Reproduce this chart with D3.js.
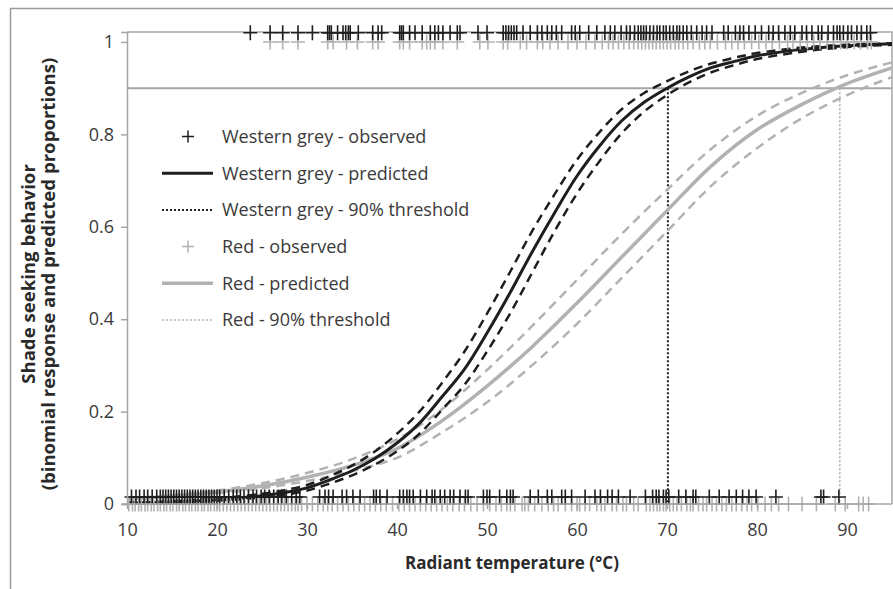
<!DOCTYPE html>
<html><head><meta charset="utf-8">
<script src="https://cdn.jsdelivr.net/npm/d3@7"></script>
<style>body{margin:0;background:#fff}svg{display:block}</style>
</head><body><svg id="c" width="893" height="589"></svg>
<script>
// ---------------- data ----------------
const xTicks = [10, 20, 30, 40, 50, 60, 70, 80, 90];
const yTicks = [0, 0.2, 0.4, 0.6, 0.8, 1];
const yTickLabels = ["0", "0.2", "0.4", "0.6", "0.8", "1"];

const legendLabels = ["Western grey - observed", "Western grey - predicted", "Western grey - 90% threshold",
  "Red - observed", "Red - predicted", "Red - 90% threshold"];

// observed responses (x = radiant temperature). Western grey plotted at 1.02 / 0.015 (offset), Red at 1 / 0
const wgObsLevels = [1.02, 0.015];
const redObsLevels = [1, 0];

const wgObs1 = [23.7, 25.9, 27.3, 29.0, 30.6, 32.3, 32.5, 32.7, 33.4, 34.0, 34.3, 34.6, 34.8, 35.7, 37.3, 37.9, 38.3,
  40.3, 40.5, 40.7, 41.4, 42.0, 42.8, 43.7, 44.2, 44.6, 45.1, 45.9, 46.7, 47.0, 49.0, 50.0, 51.8, 52.1, 52.4, 52.7,
  53.0, 53.3, 54.0, 54.8, 55.6, 56.1, 56.7, 57.2, 57.7, 58.3, 59.4, 59.8, 60.3, 61.3, 62.2, 63.1, 63.7, 64.2, 64.9,
  65.5, 65.9, 66.4, 66.8, 67.1, 67.4, 67.7, 68.1, 68.5, 68.9, 69.2, 69.6, 69.9, 70.3, 70.7, 71.1, 71.4, 71.8, 72.2,
  72.7, 73.3, 73.9, 74.4, 75.0, 76.3, 76.8, 77.6, 78.1, 78.5, 79.1, 79.8, 80.5, 81.3, 81.8, 82.4, 83.1, 83.7, 84.2,
  85.0, 85.5, 86.1, 86.8, 87.2, 87.9, 88.5, 88.9, 89.2, 89.6, 90.1, 90.5, 91.1, 91.6, 92.2, 92.6];

const wgObs0 = [10.5, 11.0, 11.4, 11.9, 12.3, 12.8, 13.3, 13.7, 14.0, 14.3, 14.6, 14.9, 15.2, 15.5, 15.8, 16.1, 16.4,
  16.7, 17.0, 17.3, 17.6, 17.9, 18.2, 18.5, 18.8, 19.1, 19.4, 19.7, 20.0, 20.3, 20.8, 21.3, 21.8, 22.2, 22.6, 23.0,
  23.5, 24.0, 24.4, 24.9, 25.3, 25.8, 26.3, 26.8, 27.2, 27.7, 28.3, 28.8, 29.2, 31.4, 32.0, 32.4, 32.9, 33.9, 34.4,
  35.1, 35.9, 37.4, 37.7, 38.1, 38.9, 40.3, 40.7, 41.1, 41.4, 41.8, 42.6, 43.3, 43.9, 44.2, 44.8, 45.3, 45.9, 46.3,
  47.0, 47.6, 47.9, 49.6, 50.0, 50.3, 51.4, 52.2, 52.6, 52.9, 54.8, 55.7, 56.7, 57.2, 58.3, 58.7, 59.4, 60.9, 62.0,
  62.6, 63.4, 63.9, 64.6, 65.9, 67.6, 68.4, 68.8, 69.1, 69.6, 69.9, 70.2, 71.3, 72.1, 72.9, 73.2, 74.7, 75.8, 76.9,
  77.7, 78.4, 79.1, 79.9, 82.1, 87.1, 87.4, 89.1];

const redObs1 = [25.9, 27.3, 29.0, 32.3, 32.9, 34.4, 35.6, 37.3, 37.9, 40.3, 40.7, 41.4, 42.8, 43.3, 43.7, 44.2, 45.1,
  46.7, 49.2, 50.1, 51.8, 52.3, 53.7, 54.4, 55.6, 56.2, 57.0, 57.9, 59.0, 60.0, 61.0, 62.0, 62.8, 63.5, 64.0, 64.6,
  65.2, 65.8, 66.3, 66.8, 67.2, 67.6, 68.0, 68.4, 68.8, 69.2, 69.6, 70.0, 70.4, 70.9, 71.3, 71.8, 72.3, 72.9, 73.6,
  74.2, 74.8, 75.6, 76.5, 77.2, 77.9, 78.6, 79.4, 80.2, 81.0, 81.7, 82.5, 83.4, 84.0, 84.8, 85.6, 86.3, 87.0, 87.8,
  88.5, 89.3, 90.0, 90.8, 91.5, 92.3, 92.7];

const redObs0 = [10.2, 10.6, 10.9, 11.3, 11.6, 12.0, 12.3, 12.7, 13.0, 13.4, 13.7, 14.1, 14.4, 14.8, 15.1, 15.5, 15.8,
  16.2, 16.5, 16.9, 17.2, 17.6, 17.9, 18.3, 18.6, 19.0, 19.3, 19.7, 20.0, 20.3, 20.7, 21.1, 21.5, 21.9, 22.3, 22.7,
  23.1, 23.5, 23.9, 24.3, 24.7, 25.1, 25.5, 25.9, 26.3, 26.7, 27.1, 27.5, 27.9, 28.3, 28.7, 29.0, 29.4, 30.0, 30.6,
  31.2, 31.8, 32.3, 32.8, 33.4, 34.0, 34.6, 35.2, 35.8, 36.4, 37.0, 37.6, 38.2, 38.8, 39.5, 40.2, 40.8, 41.4, 42.0,
  42.6, 43.2, 43.8, 44.4, 45.0, 45.6, 46.2, 46.9, 47.5, 48.2, 48.9, 49.6, 50.3, 51.0, 51.6, 52.2, 52.6, 53.1, 53.9,
  54.2, 54.6, 55.3, 56.1, 56.8, 57.4, 57.9, 58.7, 59.4, 60.0, 60.3, 60.9, 61.4, 62.2, 62.7, 63.1, 63.9, 64.4, 65.1,
  65.5, 66.3, 66.8, 67.7, 68.1, 68.5, 68.9, 69.2, 69.6, 69.9, 70.3, 70.7, 71.1, 71.6, 72.2, 72.6, 72.9, 73.5, 74.0,
  74.4, 75.0, 75.5, 76.1, 76.6, 77.2, 77.7, 78.3, 78.9, 79.4, 80.1, 80.9, 81.6, 82.4, 83.5, 85.0, 86.6, 88.7, 89.8,
  91.3, 91.8, 92.4];

// predicted curves
const wgX = [10, 15, 20, 25, 27.5, 30, 32.5, 35, 37.5, 40, 42.5, 45, 47.5, 50, 52.5, 55, 57.5, 60, 62.5, 65, 67.5, 70, 72.5, 75, 77.5, 80, 85, 90, 95];
const wgPred  = [0.002, 0.004, 0.009, 0.018, 0.025, 0.035, 0.052, 0.072, 0.098, 0.132, 0.175, 0.232, 0.292, 0.37, 0.455, 0.545, 0.63, 0.71, 0.775, 0.83, 0.87, 0.9, 0.925, 0.945, 0.958, 0.97, 0.984, 0.992, 0.996];
const wgUpper = [0.003, 0.006, 0.012, 0.022, 0.03, 0.041, 0.06, 0.083, 0.113, 0.152, 0.2, 0.262, 0.33, 0.412, 0.5, 0.59, 0.67, 0.745, 0.805, 0.855, 0.89, 0.915, 0.937, 0.954, 0.966, 0.976, 0.988, 0.994, 0.997];
const wgLower = [0.0015, 0.003, 0.007, 0.014, 0.02, 0.029, 0.044, 0.062, 0.085, 0.114, 0.152, 0.204, 0.258, 0.33, 0.41, 0.5, 0.59, 0.672, 0.742, 0.803, 0.85, 0.885, 0.913, 0.935, 0.95, 0.963, 0.979, 0.989, 0.994];

const redX = [10, 15, 20, 25, 30, 35, 40, 45, 50, 55, 60, 65, 70, 75, 80, 85, 90, 95];
const redPred  = [0.011, 0.017, 0.026, 0.039, 0.058, 0.083, 0.12, 0.18, 0.255, 0.34, 0.435, 0.535, 0.635, 0.733, 0.81, 0.865, 0.91, 0.944];
const redUpper = [0.012, 0.019, 0.029, 0.045, 0.067, 0.097, 0.14, 0.205, 0.29, 0.385, 0.485, 0.585, 0.68, 0.77, 0.84, 0.89, 0.928, 0.956];
const redLower = [0.01, 0.015, 0.023, 0.034, 0.05, 0.071, 0.1, 0.155, 0.22, 0.3, 0.39, 0.49, 0.59, 0.69, 0.77, 0.835, 0.885, 0.924];

// 90% thresholds
const thresholdLevel = 0.9;
const wgThreshold = 70.1;
const redThreshold = 89.2;

// ---------------- drawing ----------------
const svg = d3.select("#c");
const FONT = "'Open Sans', 'Liberation Sans', sans-serif";
const BLACK = "#1e1e1e", GREY = "#b2b2b2", AXIS = "#a6a6a6", TXT = "#3a3a3a";

const x = d3.scaleLinear().domain([10, 95]).range([127, 892]);
const y = d3.scaleLinear().domain([0, 1.0216]).range([504, 32]);

// outer frame
svg.append("rect").attr("width", 893).attr("height", 589).attr("fill", "#fff");
svg.append("path").attr("d", "M10.5,589 V8.5 H893").attr("fill", "none").attr("stroke", "#9a9a9a").attr("stroke-width", 1.5);

// plot area border (top & right)
svg.append("path")
  .attr("d", `M${x(10)},${y(1.0216)} H${x(95)} V${y(0)}`)
  .attr("fill", "none").attr("stroke", AXIS).attr("stroke-width", 1.5);

// 0.9 line
svg.append("line").attr("x1", x(10)).attr("x2", x(95)).attr("y1", y(thresholdLevel)).attr("y2", y(thresholdLevel))
  .attr("stroke", AXIS).attr("stroke-width", 2);

// threshold verticals
svg.append("line").attr("x1", x(wgThreshold)).attr("x2", x(wgThreshold)).attr("y1", y(thresholdLevel)).attr("y2", y(0))
  .attr("stroke", BLACK).attr("stroke-width", 2).attr("stroke-dasharray", "2,2");
svg.append("line").attr("x1", x(redThreshold)).attr("x2", x(redThreshold)).attr("y1", y(thresholdLevel)).attr("y2", y(0))
  .attr("stroke", GREY).attr("stroke-width", 1.5).attr("stroke-dasharray", "2,2");

const line = d3.line().x(d => x(d[0])).y(d => y(d[1])).curve(d3.curveCatmullRom.alpha(0.5));
const zip = (xs, ys) => xs.map((v, i) => [v, ys[i]]);

// red curves
svg.append("path").attr("d", line(zip(redX, redUpper))).attr("fill", "none").attr("stroke", GREY).attr("stroke-width", 2.5).attr("stroke-dasharray", "9,6");
svg.append("path").attr("d", line(zip(redX, redLower))).attr("fill", "none").attr("stroke", GREY).attr("stroke-width", 2.5).attr("stroke-dasharray", "9,6");
svg.append("path").attr("d", line(zip(redX, redPred))).attr("fill", "none").attr("stroke", GREY).attr("stroke-width", 3.5);
// western grey curves
svg.append("path").attr("d", line(zip(wgX, wgUpper))).attr("fill", "none").attr("stroke", BLACK).attr("stroke-width", 2.5).attr("stroke-dasharray", "9,6");
svg.append("path").attr("d", line(zip(wgX, wgLower))).attr("fill", "none").attr("stroke", BLACK).attr("stroke-width", 2.5).attr("stroke-dasharray", "9,6");
svg.append("path").attr("d", line(zip(wgX, wgPred))).attr("fill", "none").attr("stroke", BLACK).attr("stroke-width", 3);

// observed plus markers
function pluses(xs, level, color) {
  const g = svg.append("g").attr("stroke", color).attr("stroke-width", 1.6).attr("fill", "none");
  g.selectAll("path").data(xs).join("path")
    .attr("d", d => `M${x(d) - 7},${y(level)} h14 M${x(d)},${y(level) - 7.5} v15`);
}
pluses(redObs1, redObsLevels[0], GREY);
pluses(redObs0, redObsLevels[1], GREY);
pluses(wgObs1, wgObsLevels[0], BLACK);
pluses(wgObs0, wgObsLevels[1], BLACK);

// axes
const yAxis = svg.append("g").attr("transform", `translate(${x(10)},0)`)
  .call(d3.axisLeft(y).tickValues(yTicks).tickFormat((d, i) => yTickLabels[i]).tickSize(6).tickPadding(7));
const xAxis = svg.append("g").attr("transform", `translate(0,${y(0)})`)
  .call(d3.axisBottom(x).tickValues(xTicks).tickSize(5).tickPadding(14));
[yAxis, xAxis].forEach(a => {
  a.select(".domain").attr("stroke", AXIS).attr("stroke-width", 1.5);
  a.selectAll(".tick line").attr("stroke", AXIS).attr("stroke-width", 1.5);
  a.selectAll(".tick text").attr("fill", TXT).attr("font-family", FONT).attr("font-size", 18);
});
xAxis.select(".domain").attr("d", `M${x(10)},0H${x(95)}`);

// axis titles
svg.append("text").attr("x", 512).attr("y", 569).attr("text-anchor", "middle")
  .attr("font-family", FONT).attr("font-weight", "bold").attr("font-size", 17).attr("fill", "#2a2a2a")
  .text("Radiant temperature (°C)");
const yt = svg.append("text").attr("transform", "translate(0,274) rotate(-90)")
  .attr("text-anchor", "middle").attr("font-family", FONT).attr("font-weight", "bold").attr("font-size", 18.6).attr("fill", "#2a2a2a");
yt.append("tspan").attr("x", 0).attr("y", 34.5).text("Shade seeking behavior");
yt.append("tspan").attr("x", 0).attr("y", 55).text("(binomial response and predicted proportions)");

// legend
const legY0 = 136.5, legDy = 36.7;
const lg = svg.append("g");
legendLabels.forEach((lab, i) => {
  const cy = legY0 + i * legDy;
  const isRed = i >= 3;
  const col = isRed ? GREY : BLACK;
  const k = i % 3;
  if (k === 0) {
    lg.append("path").attr("d", `M${188 - 6},${cy} h12 M188,${cy - 6} v12`).attr("stroke", col).attr("stroke-width", 1.5);
  } else if (k === 1) {
    lg.append("line").attr("x1", 162).attr("x2", 213).attr("y1", cy).attr("y2", cy).attr("stroke", col).attr("stroke-width", isRed ? 3.5 : 3);
  } else {
    lg.append("line").attr("x1", 162).attr("x2", 213).attr("y1", cy).attr("y2", cy).attr("stroke", col)
      .attr("stroke-width", isRed ? 1.5 : 2).attr("stroke-dasharray", "2,2");
  }
  lg.append("text").attr("x", 222).attr("y", cy).attr("dy", "0.35em").attr("font-family", FONT).attr("font-size", 18)
    .attr("fill", TXT).text(lab);
});
</script></body></html>
